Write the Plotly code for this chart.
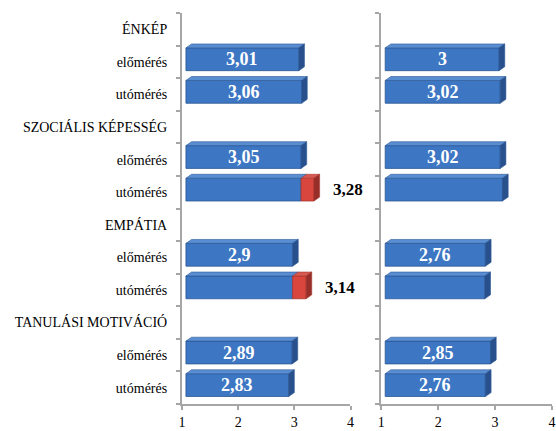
import plotly.graph_objects as go

# ---------------- data ----------------
groups = ["ÉNKÉP", "SZOCIÁLIS KÉPESSÉG", "EMPÁTIA", "TANULÁSI MOTIVÁCIÓ"]
phases = ["előmérés", "utómérés"]
left_pre = [3.01, 3.05, 2.90, 2.89]
left_post = [3.06, 3.28, 3.14, 2.83]
left_gain_shown = [False, True, True, False]
right_pre = [3.00, 3.02, 2.76, 2.85]
right_post = [3.02, 3.06, 2.75, 2.76]
right_post_labelled = [True, False, False, True]
x_ticks = [1, 2, 3, 4]
AXIS_MIN = 1

# ---------------- style ----------------
SERIF = "Liberation Serif"
GRAY = "#a6a6a6"
BLUE_FRONT = "#3d76c3"
BLUE_TOP = "#5a8ed3"
BLUE_SIDE = "#28508c"
BLUE_EDGE = "#2c5893"
RED_FRONT = "#d8463d"
RED_TOP = "#d65a52"
RED_SIDE = "#962e2a"
RED_EDGE = "#a8352f"
SX = 0.07   # front-face shift (x units)
DX = 0.10   # depth in x units
DY = 0.12   # depth in row units
OY = 0.08   # front-face shift up (row units)
BW = 0.70   # front-face height (row units)


def fmt(v):
    return f"{v:g}".replace(".", ",")


row_labels = []
for g in groups:
    row_labels += [g] + phases
n_rows = len(row_labels)


def segments(pre, post, gain_shown, post_labelled):
    segs = []  # (row, x0, x1, kind, label, last)
    outside = []
    for i in range(len(groups)):
        r_pre, r_post = 3 * i + 1, 3 * i + 2
        segs.append((r_pre, AXIS_MIN, pre[i], "blue", fmt(pre[i]), True))
        if gain_shown[i]:
            segs.append((r_post, AXIS_MIN, pre[i], "blue", "", False))
            segs.append((r_post, pre[i], post[i], "red", "", True))
            outside.append((r_post, post[i], fmt(post[i])))
        else:
            segs.append((r_post, AXIS_MIN, post[i], "blue",
                         fmt(post[i]) if post_labelled[i] else "", True))
    return segs, outside


panels = [
    ("x", "y", segments(left_pre, left_post, left_gain_shown, [True] * 4)),
    ("x2", "y2", segments(right_pre, right_post, [False] * 4, right_post_labelled)),
]

fig = go.Figure()
shapes = []
annotations = []

for xr, yr, (segs, outside) in panels:
    for kind, front, top, side, edge in [("blue", BLUE_FRONT, BLUE_TOP, BLUE_SIDE, BLUE_EDGE),
                                         ("red", RED_FRONT, RED_TOP, RED_SIDE, RED_EDGE)]:
        ks = [s for s in segs if s[3] == kind]
        if not ks:
            continue
        fig.add_trace(go.Bar(
            orientation="h",
            y=[s[0] - OY for s in ks],
            x=[s[2] - s[1] for s in ks],
            base=[s[1] + SX for s in ks],
            width=BW,
            marker=dict(color=front, line=dict(color=edge, width=0.8)),
            hoverinfo="skip",
            showlegend=False,
            xaxis=xr, yaxis=yr,
        ))
        for (r, x0, x1, k, lab, last) in ks:
            yt = r - OY - BW / 2
            yb = r - OY + BW / 2
            a0, a1 = x0 + SX, x1 + SX
            shapes.append(dict(
                type="path", xref=xr, yref=yr, layer="above",
                path=f"M {a0},{yt} L {a0 + DX},{yt - DY} L {a1 + DX},{yt - DY} L {a1},{yt} Z",
                fillcolor=top, line=dict(color=edge, width=0.6)))
            if last:
                shapes.append(dict(
                    type="path", xref=xr, yref=yr, layer="above",
                    path=f"M {a1},{yt} L {a1 + DX},{yt - DY} L {a1 + DX},{yb - DY} L {a1},{yb} Z",
                    fillcolor=side, line=dict(color=edge, width=0.6)))
            if lab:
                annotations.append(dict(
                    x=(a0 + a1) / 2, y=r - OY, xref=xr, yref=yr, text=f"<b>{lab}</b>",
                    showarrow=False, xanchor="center", yanchor="middle",
                    font=dict(family=SERIF, size=18, color="white")))
    for (r, v, lab) in outside:
        annotations.append(dict(
            x=v, y=r - OY, xref=xr, yref=yr, text=f"<b>{lab}</b>", showarrow=False,
            xanchor="left", yanchor="middle", xshift=21,
            font=dict(family=SERIF, size=17, color="black")))

boundaries = [r - 0.5 for r in range(n_rows + 1)]

xaxis_common = dict(range=[AXIS_MIN, 4], tickmode="array", tickvals=x_ticks,
                    ticks="outside", ticklen=4, tickcolor=GRAY, tickwidth=1.5,
                    showline=True, linecolor=GRAY, linewidth=2, showgrid=False,
                    zeroline=False, tickfont=dict(family=SERIF, size=14, color="black"))
yaxis_common = dict(range=[n_rows - 0.5, -0.5], tickmode="array",
                    tickvals=list(range(n_rows)), ticktext=row_labels, ticks="",
                    showline=True, linecolor=GRAY, linewidth=2, showgrid=False,
                    zeroline=False,
                    minor=dict(tickmode="array", tickvals=boundaries, ticks="outside",
                               ticklen=4, tickcolor=GRAY, tickwidth=1.5, showgrid=False),
                    tickfont=dict(family=SERIF, size=14, color="black"))

fig.update_layout(
    width=556, height=431,
    margin=dict(l=182, r=1, t=13, b=21),
    paper_bgcolor="white", plot_bgcolor="white",
    barmode="overlay",
    font=dict(family=SERIF, color="black"),
    xaxis=dict(domain=[0, 0.4554], anchor="y", **xaxis_common),
    xaxis2=dict(domain=[0.5384, 1], anchor="y2", **xaxis_common),
    yaxis=dict(domain=[0, 1], anchor="x", ticklabelstandoff=10, **yaxis_common),
    yaxis2=dict(domain=[0, 1], anchor="x2", showticklabels=False, **yaxis_common),
    shapes=shapes,
    annotations=annotations,
)

fig.write_html("out.html")
